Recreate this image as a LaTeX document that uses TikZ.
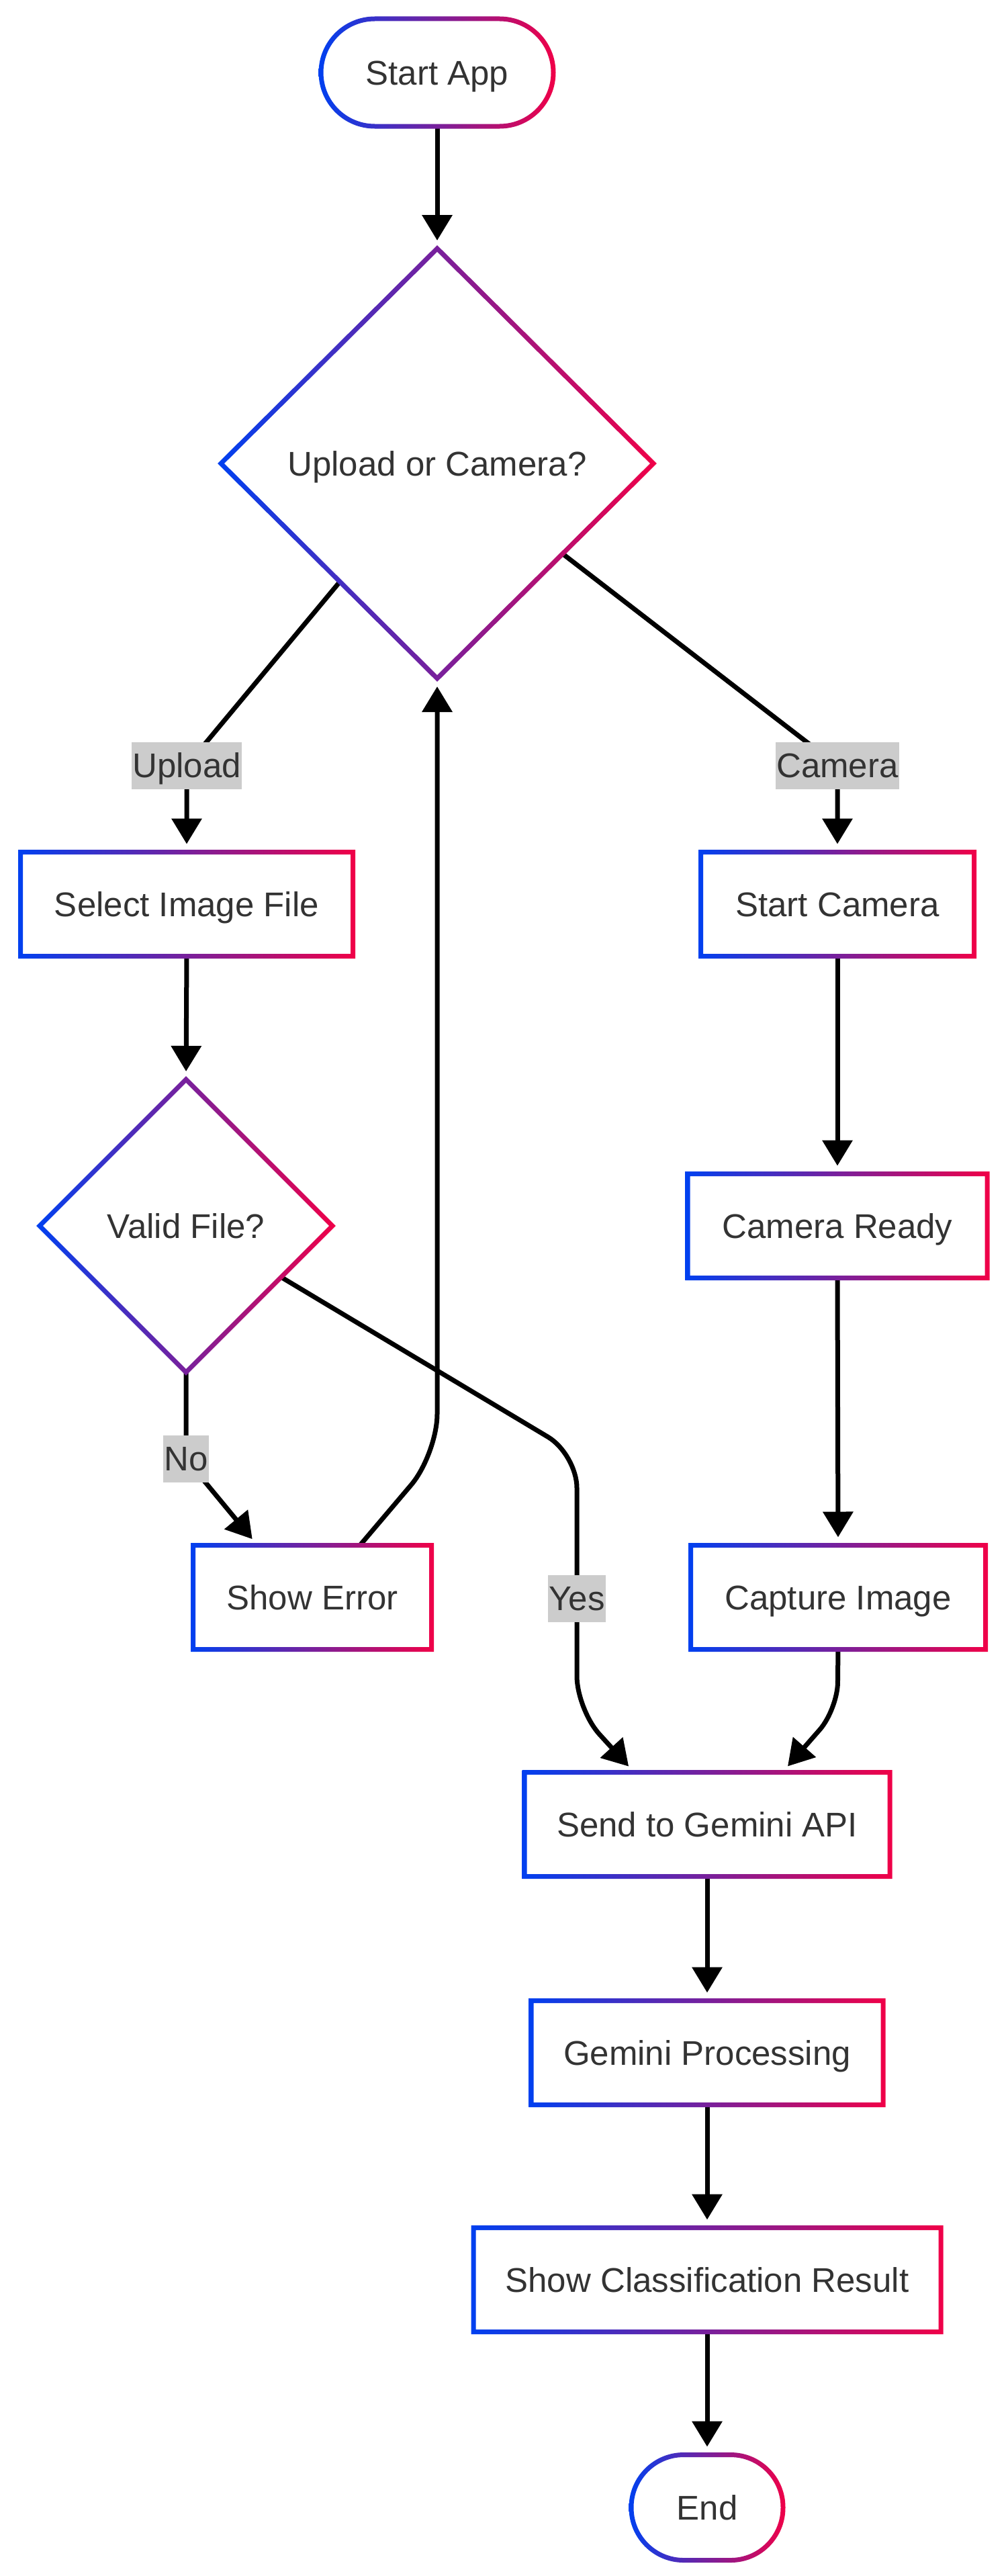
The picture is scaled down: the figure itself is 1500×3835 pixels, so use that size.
\documentclass[tikz,border=0pt]{standalone}
\usepackage{fontspec}
\setmainfont{Liberation Sans}
\usetikzlibrary{arrows.meta,calc,shapes.geometric}
\definecolor{cblue}{RGB}{0,64,240}
\definecolor{cred}{RGB}{240,0,72}
\definecolor{txt}{RGB}{51,51,51}
\definecolor{lblgray}{RGB}{204,204,204}
\pgfdeclarelayer{bg}
\pgfdeclarelayer{edges}
\pgfsetlayers{bg,edges,main}
\tikzset{
 nbase/.style={fill=white, text=txt, inner sep=0pt, outer sep=0pt,
   font=\fontsize{51pt}{61pt}\selectfont, text height=36.5pt, text depth=0pt},
 procbox/.style={nbase, rectangle, minimum height=155pt},
 stadbox/.style={nbase, rectangle, rounded corners=80pt, minimum height=160pt},
 decbox/.style={nbase, diamond},
 lbl/.style={fill=lblgray, text=txt, inner xsep=1pt, inner ysep=0pt,
   font=\fontsize{51pt}{61pt}\selectfont, text height=52pt, text depth=18pt},
 conn/.style={draw=black, line width=7pt, -{Triangle[length=38pt,width=44pt]}, shorten >=12pt},
 ring/.style={left color=cblue, right color=cred, even odd rule}
}
\newcommand\ringrect[1]{%
 \shade[ring] ($(#1.south west)+(-3.5pt,-3.5pt)$) rectangle ($(#1.north east)+(3.5pt,3.5pt)$)
   ($(#1.south west)+(3.5pt,3.5pt)$) rectangle ($(#1.north east)+(-3.5pt,-3.5pt)$);}
\newcommand\ringstad[3]{%
 \shade[ring] ($(#1.south west)+(-3.5pt,-3.5pt)$) [rounded corners=#2] rectangle ($(#1.north east)+(3.5pt,3.5pt)$)
   ($(#1.south west)+(3.5pt,3.5pt)$) [rounded corners=#3] rectangle ($(#1.north east)+(-3.5pt,-3.5pt)$);}
\newcommand\ringdia[1]{%
 \shade[ring] ($(#1.north)+(0pt,4.95pt)$) -- ($(#1.east)+(4.95pt,0pt)$) -- ($(#1.south)+(0pt,-4.95pt)$) -- ($(#1.west)+(-4.95pt,0pt)$) -- cycle
   ($(#1.north)+(0pt,-4.95pt)$) -- ($(#1.east)+(-4.95pt,0pt)$) -- ($(#1.south)+(0pt,4.95pt)$) -- ($(#1.west)+(4.95pt,0pt)$) -- cycle;}
\begin{document}
\begin{tikzpicture}[x=1pt,y=-1pt]
\begin{pgfonlayer}{bg}
\fill[white] (0,0) rectangle (1500,3835);
\end{pgfonlayer}
\useasboundingbox (0,0) rectangle (1500,3835);

% nodes
\node[stadbox, minimum width=346pt] (start) at (651,108) {Start App};
\node[decbox, minimum width=644pt, minimum height=640pt] (d1) at (651,690) {Upload or Camera?};
\node[procbox, minimum width=495pt] (sel) at (278,1346) {Select Image File};
\node[procbox, minimum width=407pt] (scam) at (1247,1346) {Start Camera};
\node[decbox, minimum width=436pt, minimum height=436pt] (vf) at (277,1825) {Valid File?};
\node[procbox, minimum width=446pt] (cready) at (1247,1825) {Camera Ready};
\node[procbox, minimum width=355pt] (serr) at (465,2378) {Show Error};
\node[procbox, minimum width=439pt] (cap) at (1248,2378) {Capture Image};
\node[procbox, minimum width=544pt] (send) at (1053,2716) {Send to Gemini API};
\node[procbox, minimum width=524pt] (gproc) at (1053,3056) {Gemini Processing};
\node[procbox, minimum width=696pt] (res) at (1053,3394) {Show Classification Result};
\node[stadbox, minimum width=226pt, minimum height=157pt, rounded corners=78pt] (end) at (1053,3733) {End};

% gradient borders
\ringstad{start}{83.5pt}{76.5pt}
\ringdia{d1}
\ringrect{sel}
\ringrect{scam}
\ringdia{vf}
\ringrect{cready}
\ringrect{serr}
\ringrect{cap}
\ringrect{send}
\ringrect{gproc}
\ringrect{res}
\ringstad{end}{81.5pt}{74.5pt}

% label positions
\coordinate (pup) at (278,1140);
\coordinate (pcam) at (1247,1140);
\coordinate (pno) at (277,2172);
\coordinate (pyes) at (859,2380);

% connectors
\begin{pgfonlayer}{edges}
\draw[conn] (start.south) -- (d1.north);
\draw[conn] ($(d1.west)!0.55!(d1.south)$) -- (pup) -- (sel.north);
\draw[conn] ($(d1.south)!0.58!(d1.east)$) -- (pcam) -- (scam.north);
\draw[conn] (sel.south) -- (vf.north);
\draw[conn] (scam.south) -- (cready.north);
\draw[conn] (cready.south) -- (cap.north);
\draw[conn] (vf.south) -- (pno) -- ($(serr.north west)!0.27!(serr.north east)$);
\draw[conn, rounded corners=50pt] ($(vf.south)!0.65!(vf.east)$) -- (859,2165) -- (pyes) -- (859,2545) -- ($(send.north west)!0.3!(send.north east)$);
\draw[conn, rounded corners=60pt] ($(serr.north west)!0.7!(serr.north east)$) -- (651,2165) -- (d1.south);
\draw[conn, rounded corners=40pt] (cap.south) -- (1247,2545) -- ($(send.north west)!0.706!(send.north east)$);
\draw[conn] (send.south) -- (gproc.north);
\draw[conn] (gproc.south) -- (res.north);
\draw[conn] (res.south) -- (end.north);
\end{pgfonlayer}

% edge labels
\node[lbl] (lup) at (pup) {Upload};
\node[lbl] (lcam) at (pcam) {Camera};
\node[lbl] (lno) at (pno) {No};
\node[lbl] (lyes) at (pyes) {Yes};
\end{tikzpicture}
\end{document}
